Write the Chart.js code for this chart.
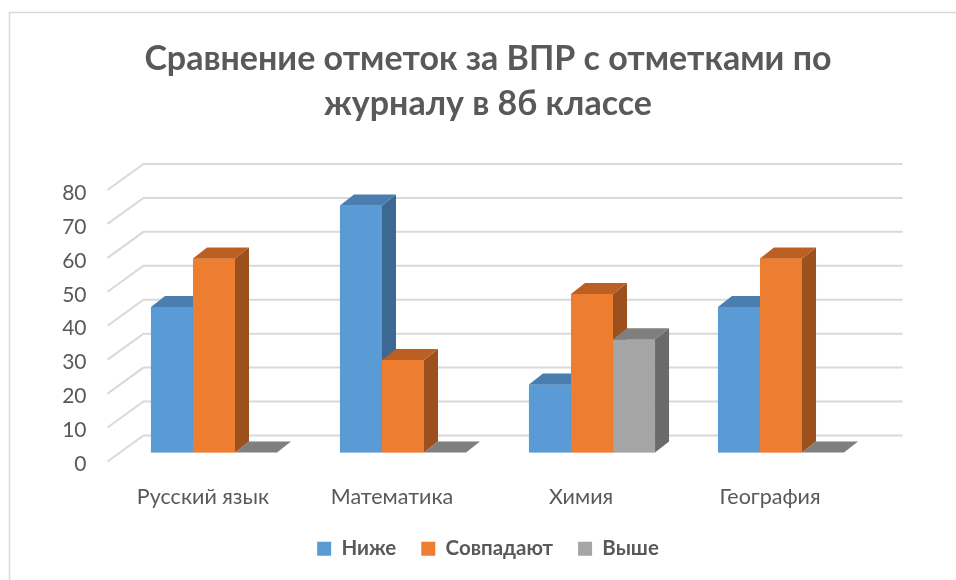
<!DOCTYPE html>
<html>
<head>
<meta charset="utf-8">
<script src="https://cdn.jsdelivr.net/npm/chart.js@4"></script>
<style>
  html, body { margin: 0; background: #fff; }
</style>
</head>
<body>
<canvas id="chart" width="956" height="580"></canvas>
<script>
  // data
  const categories = ['Русский язык', 'Математика', 'Химия', 'География']
  const seriesNames = ['Ниже', 'Совпадают', 'Выше']
  const nizhe = [42.86, 72.73, 20, 42.86]
  const sovpadayut = [57.14, 27.27, 46.67, 57.14]
  const vyshe = [0, 0, 33.33, 0]
  const yMin = 0
  const yMax = 80
  const yStep = 10

  const faces = [
    { front: '#5b9bd5', top: '#4a7db0', side: '#3c6893' },
    { front: '#ed7d31', top: '#bb5f22', side: '#9b501d' },
    { front: '#a5a5a5', top: '#7f7f7f', side: '#6a6a6a' }
  ]
  const bar3d = { dx: 14, dy: 11 }
  const wallBack = { dx: 24, dy: -17 }
  const wallFront = { dx: -12, dy: 9 }

  Chart.defaults.font.family = 'Lato'
  Chart.defaults.color = '#595959'

  const chart3d = {
    id: 'chart3d',
    beforeDraw(chart) {
      const { ctx, width, height } = chart
      ctx.save()
      ctx.fillStyle = '#fff'
      ctx.fillRect(0, 0, width, height)
      ctx.strokeStyle = '#d9d9d9'
      ctx.lineWidth = 1.5
      ctx.beginPath()
      ctx.moveTo(9.5, height)
      ctx.lineTo(9.5, 12.5)
      ctx.lineTo(width, 12.5)
      ctx.stroke()
      ctx.restore()
    },
    beforeDatasetsDraw(chart) {
      const { ctx, chartArea } = chart
      const y = chart.scales.y
      ctx.save()
      ctx.strokeStyle = '#d9d9d9'
      ctx.lineWidth = 2
      y.ticks.forEach(t => {
        const py = y.getPixelForValue(t.value)
        ctx.beginPath()
        ctx.moveTo(chartArea.left + wallFront.dx, py + wallFront.dy)
        ctx.lineTo(chartArea.left + wallBack.dx, py + wallBack.dy)
        ctx.lineTo(chartArea.right + 27, py + wallBack.dy)
        ctx.stroke()
      })
      ctx.restore()
    },
    afterDatasetsDraw(chart) {
      const { ctx } = chart
      const metas = chart.data.datasets.map((d, i) => chart.getDatasetMeta(i))
      const { dx, dy } = bar3d
      ctx.save()
      categories.forEach((c, j) => {
        metas.forEach((meta, i) => {
          const { x, y, base, width } = meta.data[j].getProps(['x', 'y', 'base', 'width'], true)
          const l = x - width / 2
          const r = x + width / 2
          const col = faces[i]
          if (base - y > 0) {
            ctx.fillStyle = col.front
            ctx.fillRect(l, y, width, base - y)
            ctx.fillStyle = col.side
            ctx.beginPath()
            ctx.moveTo(r, y)
            ctx.lineTo(r + dx, y - dy)
            ctx.lineTo(r + dx, base - dy)
            ctx.lineTo(r, base)
            ctx.closePath()
            ctx.fill()
          }
          ctx.fillStyle = col.top
          ctx.beginPath()
          ctx.moveTo(l, y)
          ctx.lineTo(l + dx, y - dy)
          ctx.lineTo(r + dx, y - dy)
          ctx.lineTo(r, y)
          ctx.closePath()
          ctx.fill()
        })
      })
      ctx.restore()
    }
  }

  new Chart(document.getElementById('chart'), {
    type: 'bar',
    data: {
      labels: categories,
      datasets: [
        { label: seriesNames[0], data: nizhe, backgroundColor: faces[0].front },
        { label: seriesNames[1], data: sovpadayut, backgroundColor: faces[1].front },
        { label: seriesNames[2], data: vyshe, backgroundColor: faces[2].front }
      ]
    },
    options: {
      responsive: false,
      animation: false,
      devicePixelRatio: 1,
      categoryPercentage: 0.667,
      barPercentage: 1,
      // right padding is negative so title and legend centre on the whole frame
      layout: { padding: { top: 14, left: 10, right: -10, bottom: 11 } },
      plugins: {
        title: {
          display: true,
          text: ['Сравнение отметок за ВПР с отметками по', 'журналу в 8б классе'],
          color: '#595959',
          font: { size: 34, weight: 'bold', lineHeight: 1.33 },
          padding: { top: 22, bottom: 54.5 }
        },
        legend: {
          position: 'bottom',
          labels: {
            boxWidth: 14,
            boxHeight: 14,
            padding: 25,
            color: '#595959',
            font: { size: 20.5, weight: 'bold' }
          }
        },
        tooltip: { enabled: false }
      },
      scales: {
        x: {
          grid: { display: false, drawTicks: false },
          border: { display: false },
          ticks: { padding: 32, labelOffset: -11, font: { size: 21.5 }, color: '#595959' },
          afterFit(scale) { scale.height = 61 }
        },
        y: {
          min: yMin,
          max: yMax,
          grid: { display: false, drawTicks: false },
          border: { display: false },
          ticks: { stepSize: yStep, padding: 33, labelOffset: 12, font: { size: 21 }, color: '#595959' },
          afterFit(scale) { scale.width = 109.5 }
        },
        spacer: {
          type: 'linear',
          position: 'right',
          grid: { display: false, drawTicks: false },
          border: { display: false },
          ticks: { display: false },
          afterFit(scale) { scale.width = 90.5 }
        }
      }
    },
    plugins: [chart3d]
  })
</script>
</body>
</html>
